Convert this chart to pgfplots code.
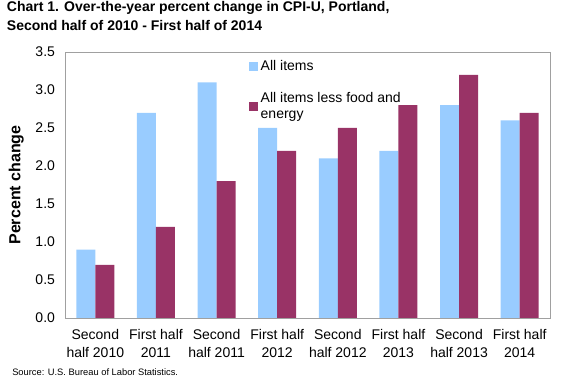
\documentclass[border=0pt]{standalone}
\usepackage{fontspec}
\setmainfont{Liberation Sans}
\usepackage{pgfplots}
\pgfplotsset{compat=1.18}
\definecolor{allblue}{HTML}{99CCFF}
\definecolor{corepurple}{HTML}{993366}
\definecolor{boxgray}{HTML}{A0A0A0}
\begin{document}
\begin{tikzpicture}
\path (0pt,0pt) rectangle (432pt,288pt);
\node[anchor=north west,align=left,font=\bfseries\fontsize{10.5}{14}\selectfont,inner sep=0pt] at (5pt,287pt) {Chart 1. Over-the-year percent change in CPI-U, Portland,\\Second half of 2010 - First half of 2014};
\node[anchor=west,font=\fontsize{7}{8}\selectfont,inner sep=0pt] at (9pt,9pt) {Source: U.S. Bureau of Labor Statistics.};
\begin{axis}[
  at={(48.75pt,49.5pt)}, anchor=south west,
  scale only axis, width=363.75pt, height=199.5pt,
  ybar=0pt, bar width=14.25pt,
  xmin=-0.5, xmax=7.5, ymin=0, ymax=3.5,
  ytick={0,0.5,...,3.5},
  xtick=data,
  xticklabels={{Second\\half 2010},{First half\\2011},{Second\\half 2011},{First half\\2012},{Second\\half 2012},{First half\\2013},{Second\\half 2013},{First half\\2014}},
  x tick label style={align=center,font=\fontsize{10.5}{13.5}\selectfont,yshift=-5pt},
  y tick label style={font=\fontsize{10.5}{13}\selectfont,xshift=-4pt},
  /pgf/number format/assume math mode=true,
  yticklabel style={/pgf/number format/.cd,fixed,fixed zerofill,precision=1},
  major tick length=0pt,
  axis line style={boxgray},
  ylabel={\bfseries Percent change},
  ylabel style={font=\fontsize{12}{14}\selectfont,yshift=2pt},
  legend cell align=left,
  legend style={draw=none,fill=none,at={(0.37,0.99)},anchor=north west,
    font=\fontsize{10.5}{12}\selectfont, nodes={align=left}, row sep=11pt},
  legend image code/.code={\fill[#1] (0pt,-3.5pt) rectangle (7pt,3.5pt);},
]
\addplot[fill=allblue,draw=none] coordinates {(0,0.9) (1,2.7) (2,3.1) (3,2.5) (4,2.1) (5,2.2) (6,2.8) (7,2.6)};
\addplot[fill=corepurple,draw=none] coordinates {(0,0.7) (1,1.2) (2,1.8) (3,2.2) (4,2.5) (5,2.8) (6,3.2) (7,2.7)};
\legend{All items,{All items less food and\\energy}}
\end{axis}
\end{tikzpicture}
\end{document}
